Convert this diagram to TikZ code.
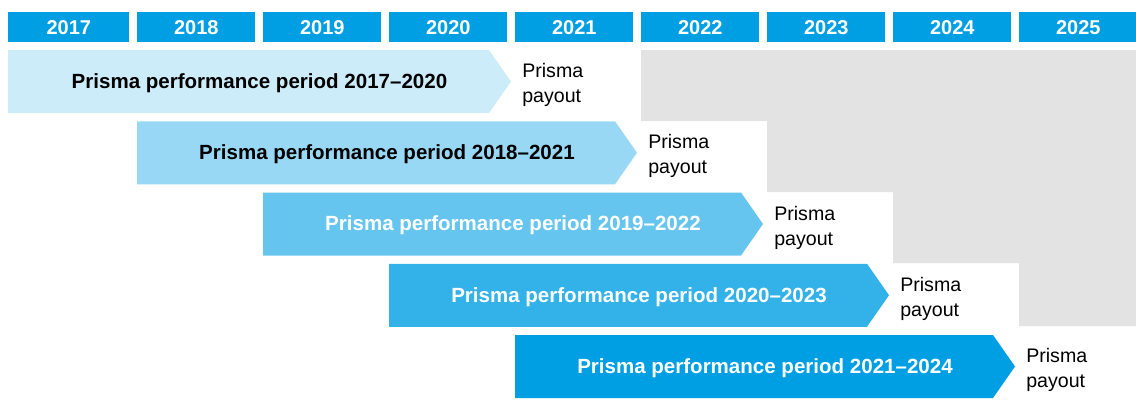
\documentclass[tikz,border=0pt]{standalone}
\usepackage{fontspec}
\setmainfont{Liberation Sans}
\usepackage{xcolor}
\usepackage{tikz}
\usetikzlibrary{positioning}

\definecolor{prismablue}{HTML}{009FE3}
\definecolor{futuregray}{HTML}{E3E3E3}

\begin{document}
\begin{tikzpicture}[x=0.75pt, y=-0.75pt,
  yearbox/.style={fill=prismablue, text=white, inner sep=0pt, anchor=north west,
    minimum height=22.5pt, font=\fontsize{15}{17}\selectfont\bfseries},
  periodtext/.style={inner sep=0pt, font=\fontsize{15.4}{18}\selectfont\bfseries},
  payouttext/.style={inner sep=0pt, anchor=west, align=left,
    font=\fontsize{14.7}{18.75}\selectfont}]

\useasboundingbox (0,0) rectangle (1136,419);

% =========================================================
% Grey area: years after each payout (staircase)
% =========================================================
\fill[futuregray]
  (641,50) -- (1136,50) -- (1136,326) -- (1019,326) -- (1019,263)
  -- (893,263) -- (893,192) -- (767,192) -- (767,121) -- (641,121) -- cycle;

% =========================================================
% Header: one box per year
% =========================================================
\foreach \k in {0,...,8}{
  \pgfmathtruncatemacro{\yr}{2017+\k}
  \pgfmathsetmacro{\xl}{ifthenelse(\k==0,8,11+126*\k)}
  \pgfmathsetmacro{\boxwd}{(11+126*\k+118-\xl)*0.75}
  \node[yearbox, minimum width=\boxwd pt] (y\yr) at (\xl,12) {\yr};
}

% =========================================================
% Performance periods: arrows with tint of the brand blue
% =========================================================
\foreach \i/\tint/\ink in {0/20/black, 1/40/black, 2/60/white, 3/80/white, 4/100/white}{
  \pgfmathsetmacro{\rowtop}{50+71.25*\i}
  \pgfmathsetmacro{\xl}{ifthenelse(\i==0,8,11+126*\i)}
  \pgfmathsetmacro{\xr}{11+126*(\i+3)+118}
  \pgfmathtruncatemacro{\yrA}{2017+\i}
  \pgfmathtruncatemacro{\yrB}{2020+\i}
  % arrow body
  \fill[prismablue!\tint]
    (\xl,\rowtop) -- (\xr-18,\rowtop) -- (\xr+4,\rowtop+31.5)
    -- (\xr-18,\rowtop+63) -- (\xl,\rowtop+63) -- cycle;
  \node[periodtext, text=\ink] (period\yrA) at ({(\xl+\xr+4)/2},\rowtop+33)
    {Prisma performance period \yrA--\yrB};
  % payout label in the following year
  \node[payouttext] (payout\yrA) at ({11+126*(\i+4)+7},\rowtop+35)
    {Prisma\\payout};
}

\end{tikzpicture}
\end{document}
